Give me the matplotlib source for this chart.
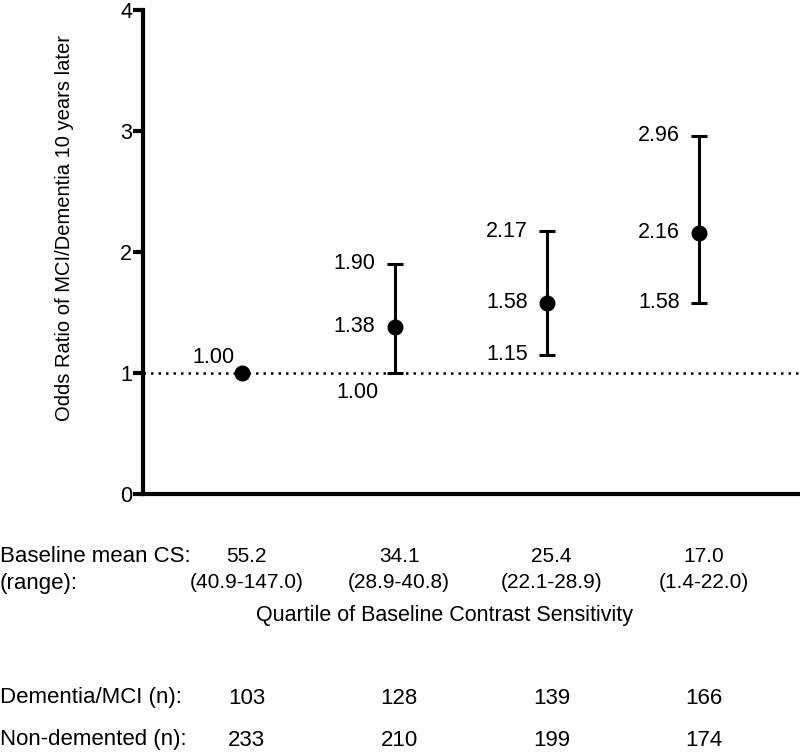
import numpy as np
import matplotlib.pyplot as plt
import matplotlib.transforms as mtransforms

plt.rcParams['font.family'] = ['Liberation Sans', 'DejaVu Sans']

# data
quartiles = [1, 2, 3, 4]
odds = [1.00, 1.38, 1.58, 2.16]
lower = [1.00, 1.00, 1.15, 1.58]
upper = [1.00, 1.90, 2.17, 2.96]
mean_cs = ["55.2", "34.1", "25.4", "17.0"]
cs_range = ["(40.9-147.0)", "(28.9-40.8)", "(22.1-28.9)", "(1.4-22.0)"]
n_dementia = [103, 128, 139, 166]
n_nondemented = [233, 210, 199, 174]

fig = plt.figure(figsize=(8, 7.53), dpi=100)
ax = fig.add_axes([0.179, 0.344, 0.821, 0.643])

ax.axhline(1, color='black', linestyle=(0, (1, 2)), linewidth=1.8, zorder=1)

odds = np.array(odds)
yerr = [odds - np.array(lower), np.array(upper) - odds]
# first quartile is the reference, no bar
ax.errorbar(quartiles[1:], odds[1:], yerr=[yerr[0][1:], yerr[1][1:]],
            fmt='none', ecolor='black', elinewidth=2.2, capsize=5.5, capthick=2.2, zorder=2)
ax.plot(quartiles, odds, 'o', color='black', markersize=10.5, zorder=3)

fs = 15.5
# value labels
ax.annotate(f"{odds[0]:.2f}", (quartiles[0], odds[0]), xytext=(-21, 11),
            textcoords='offset points', ha='center', va='center', fontsize=fs)
for q, o, lo, hi in zip(quartiles[1:], odds[1:], lower[1:], upper[1:]):
    ax.annotate(f"{hi:.2f}", (q, hi), xytext=(-14, 0), textcoords='offset points',
                ha='right', va='center', fontsize=fs)
    ax.annotate(f"{o:.2f}", (q, o), xytext=(-14, 0), textcoords='offset points',
                ha='right', va='center', fontsize=fs)
    if lo == 1.0:
        ax.annotate(f"{lo:.2f}", (q, lo), xytext=(-27, -14), textcoords='offset points',
                    ha='center', va='center', fontsize=fs)
    else:
        ax.annotate(f"{lo:.2f}", (q, lo), xytext=(-14, 0), textcoords='offset points',
                    ha='right', va='center', fontsize=fs)

ax.set_xlim(0.35, 4.66)
ax.set_ylim(0, 4)
ax.set_yticks([0, 1, 2, 3, 4])
ax.set_xticks([])
ax.spines['top'].set_visible(False)
ax.spines['right'].set_visible(False)
ax.spines['left'].set_linewidth(3)
ax.spines['bottom'].set_linewidth(3)
ax.tick_params(axis='y', length=7, width=3, labelsize=fs, pad=1)
ax.set_ylabel("Odds Ratio of MCI/Dementia 10 years later", fontsize=14.5)
ax.yaxis.set_label_coords(-0.105, 0.55)

# table underneath
trans = mtransforms.blended_transform_factory(ax.transData, fig.transFigure)
fs_row = 16
fig.text(0.0, 1 - 557 / 753, "Baseline mean CS:", fontsize=fs_row, va='center')
fig.text(0.0, 1 - 583 / 753, "(range):", fontsize=fs_row, va='center')
fig.text(0.0, 1 - 698 / 753, "Dementia/MCI (n):", fontsize=fs_row, va='center')
fig.text(0.0, 1 - 740 / 753, "Non-demented (n):", fontsize=fs_row, va='center')
for q, m, r, nd, nn in zip(quartiles, mean_cs, cs_range, n_dementia, n_nondemented):
    ax.text(q + 0.03, 1 - 557 / 753, m, transform=trans, ha='center', va='center', fontsize=15)
    ax.text(q + 0.03, 1 - 583 / 753, r, transform=trans, ha='center', va='center', fontsize=15)
    ax.text(q + 0.03, 1 - 698 / 753, str(nd), transform=trans, ha='center', va='center', fontsize=16)
    ax.text(q + 0.03, 1 - 740 / 753, str(nn), transform=trans, ha='center', va='center', fontsize=16)
fig.text(445 / 800, 1 - 616 / 753, "Quartile of Baseline Contrast Sensitivity",
         fontsize=15.5, ha='center', va='center')

fig.savefig("out.png", dpi=100)
